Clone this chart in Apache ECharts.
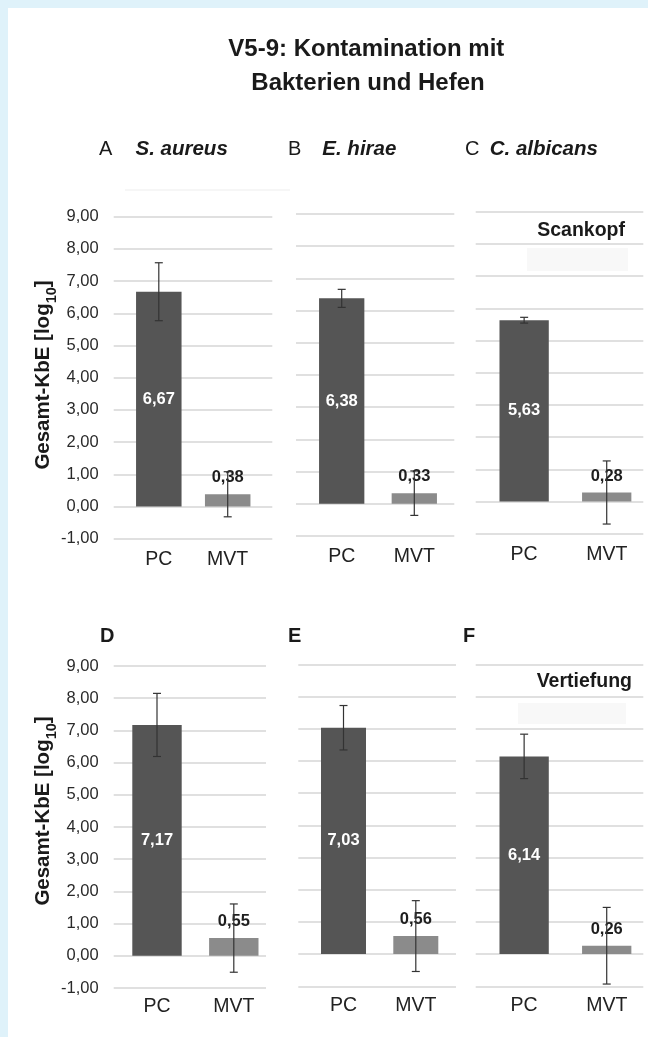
<!DOCTYPE html>
<html>
<head>
<meta charset="utf-8">
<script src="https://cdn.jsdelivr.net/npm/echarts@6/dist/echarts.min.js"></script>
<style>
html,body{margin:0;padding:0;background:#fff;}
#chart{width:648px;height:1037px;}
</style>
</head>
<body>
<div id="chart"></div>
<script>
// ---- data ----
const panelLetters = ['A', 'B', 'C', 'D', 'E', 'F'];
const organisms = ['S. aureus', 'E. hirae', 'C. albicans'];
const categories = ['PC', 'MVT'];
const pcMeans = [6.67, 6.38, 5.63, 7.17, 7.03, 6.14];
const mvtMeans = [0.38, 0.33, 0.28, 0.55, 0.56, 0.26];
const pcErr = [0.90, 0.28, 0.09, 0.98, 0.69, 0.69];
const mvtErr = [0.70, 0.69, 0.98, 1.06, 1.10, 1.19];
const yMin = -1, yMax = 9, yStep = 1;
const rowLabels = ['Scankopf', 'Vertiefung'];
const titleLines = ['V5-9: Kontamination mit', 'Bakterien und Hefen'];
const yName = 'Gesamt-KbE [log';
const ySub = '10';

// ---- layout ----
const H = 1037;
const FONT = '"Liberation Sans", Arial, Helvetica, sans-serif';
const gridH = 322;
const tops = [216.7, 214, 211.7, 666, 664.3, 664.3];
const bgBox = [[113.7, 272.3], [296, 454.3], [475.7, 643.3], [113.7, 266], [298.3, 456], [475.7, 643.3]];
const fgBox = [[124.35, 137.8], [305.4, 145.2], [482.85, 168.6], [118.6, 153.6], [307.35, 144.6], [482.85, 168.6]];
const barW = [45.5, 45.3, 49.3, 49.4, 45, 49.3];
const DARK = '#555555', LIGHT = '#8b8b8b';

const fmt = v => v.toFixed(2).replace('.', ',');

const grid = [], xAxis = [], yAxis = [], series = [];
for (let i = 0; i < 6; i++) {
  const top = tops[i];
  const bottom = H - top - gridH;
  grid.push({ left: bgBox[i][0], width: bgBox[i][1] - bgBox[i][0], top: top, bottom: bottom });
  grid.push({ left: fgBox[i][0], width: fgBox[i][1], top: top, bottom: bottom });
  xAxis.push({ gridIndex: 2 * i, type: 'category', data: categories, show: false });
  xAxis.push({
    gridIndex: 2 * i + 1, type: 'category', data: categories,
    axisLine: { show: false }, axisTick: { show: false },
    axisLabel: { fontFamily: FONT, fontSize: 19.5, color: '#222', margin: i < 3 ? 11 : 9 }
  });
  yAxis.push({
    gridIndex: 2 * i, type: 'value', min: yMin, max: yMax, interval: yStep,
    axisLine: { show: false }, axisTick: { show: false },
    splitLine: { show: true, lineStyle: { color: '#d6d6d6', width: 1.5 } },
    axisLabel: { show: i % 3 === 0, formatter: fmt, fontFamily: FONT, fontSize: 16.5, color: '#2a2a2a', margin: 15 }
  });
  yAxis.push({ gridIndex: 2 * i + 1, type: 'value', min: yMin, max: yMax, interval: yStep, show: false, splitLine: { show: false } });

  series.push({
    type: 'bar', xAxisIndex: 2 * i + 1, yAxisIndex: 2 * i + 1, barWidth: barW[i],
    data: [
      { value: pcMeans[i], itemStyle: { color: DARK },
        label: { show: true, position: 'inside', color: '#fff', fontWeight: 'bold', fontSize: 16.5, fontFamily: FONT, formatter: p => fmt(p.value) } },
      { value: mvtMeans[i], itemStyle: { color: LIGHT },
        label: { show: true, position: 'top', distance: 8, color: '#1e1e1e', fontWeight: 'bold', fontSize: 16.5, fontFamily: FONT, formatter: p => fmt(p.value) } }
    ]
  });
  series.push({
    type: 'custom', xAxisIndex: 2 * i + 1, yAxisIndex: 2 * i + 1, z: 5,
    data: [
      [0, pcMeans[i] - pcErr[i], pcMeans[i] + pcErr[i]],
      [1, mvtMeans[i] - mvtErr[i], mvtMeans[i] + mvtErr[i]]
    ],
    renderItem: function (params, api) {
      const x = api.value(0);
      const pHi = api.coord([x, api.value(2)]);
      const pLo = api.coord([x, api.value(1)]);
      const c = 4;
      const st = { stroke: '#333', lineWidth: 1.2 };
      return {
        type: 'group', children: [
          { type: 'line', shape: { x1: pHi[0], y1: pHi[1], x2: pLo[0], y2: pLo[1] }, style: st },
          { type: 'line', shape: { x1: pHi[0] - c, y1: pHi[1], x2: pHi[0] + c, y2: pHi[1] }, style: st },
          { type: 'line', shape: { x1: pLo[0] - c, y1: pLo[1], x2: pLo[0] + c, y2: pLo[1] }, style: st }
        ]
      };
    }
  });
}

const graphic = [
  { type: 'rect', shape: { x: 0, y: 0, width: 648, height: 8 }, style: { fill: '#dff2fa' }, silent: true },
  { type: 'rect', shape: { x: 0, y: 0, width: 8, height: 1037 }, style: { fill: '#dff2fa' }, silent: true },
  // faint artefacts
  { type: 'rect', shape: { x: 125, y: 189, width: 165, height: 2 }, style: { fill: '#f6f6f6' }, silent: true },
  { type: 'rect', shape: { x: 527, y: 248, width: 101, height: 23 }, style: { fill: '#f8f8f8' }, silent: true },
  { type: 'rect', shape: { x: 518, y: 703, width: 108, height: 21 }, style: { fill: '#f8f8f8' }, silent: true }
];
// title
[[366.3, 49.7], [368, 83]].forEach(function (p, k) {
  graphic.push({
    type: 'text', x: p[0], y: p[1],
    style: { text: titleLines[k], font: 'bold 24px ' + FONT, fill: '#1a1a1a', align: 'center', verticalAlign: 'middle' }
  });
});
// panel headers
const hdrX = [99, 288, 465, 100, 288, 463];
const orgX = [135.5, 322.3, 489.7];
for (let i = 0; i < 6; i++) {
  const row = i < 3 ? 0 : 1;
  graphic.push({
    type: 'text', x: hdrX[i], y: row === 0 ? 149.5 : 636.7,
    style: { text: panelLetters[i], font: (row === 0 ? 'normal 20px ' : 'bold 20px ') + FONT, fill: '#1a1a1a', verticalAlign: 'middle', align: 'left' }
  });
  if (row === 0) {
    graphic.push({
      type: 'text', x: orgX[i], y: 149.5,
      style: { text: organisms[i], font: 'italic bold 20.5px ' + FONT, fill: '#1a1a1a', verticalAlign: 'middle', align: 'left' }
    });
  }
}
graphic.push({ type: 'text', x: 625, y: 230.7, style: { text: rowLabels[0], font: 'bold 19.5px ' + FONT, fill: '#1a1a1a', align: 'right', verticalAlign: 'middle' } });
graphic.push({ type: 'text', x: 632, y: 681.7, style: { text: rowLabels[1], font: 'bold 19.5px ' + FONT, fill: '#1a1a1a', align: 'right', verticalAlign: 'middle' } });
// y axis names
[375, 811].forEach(function (cy) {
  graphic.push({
    type: 'text', x: 42, y: cy, rotation: Math.PI / 2,
    style: {
      text: '{a|' + yName + '}{s|' + ySub + '}{a|]}',
      align: 'center', verticalAlign: 'middle', fill: '#1a1a1a',
      rich: {
        a: { font: 'bold 20.5px ' + FONT, fill: '#1a1a1a', lineHeight: 24, verticalAlign: 'bottom' },
        s: { font: 'bold 14.5px ' + FONT, fill: '#1a1a1a', lineHeight: 24, verticalAlign: 'bottom', padding: [0, 0, -5, 0] }
      }
    }
  });
});

const option = {
  animation: false,
  backgroundColor: '#ffffff',
  grid: grid, xAxis: xAxis, yAxis: yAxis, series: series, graphic: graphic
};
const chart = echarts.init(document.getElementById('chart'), null, { renderer: 'canvas' });
chart.setOption(option);
</script>
</body>
</html>
